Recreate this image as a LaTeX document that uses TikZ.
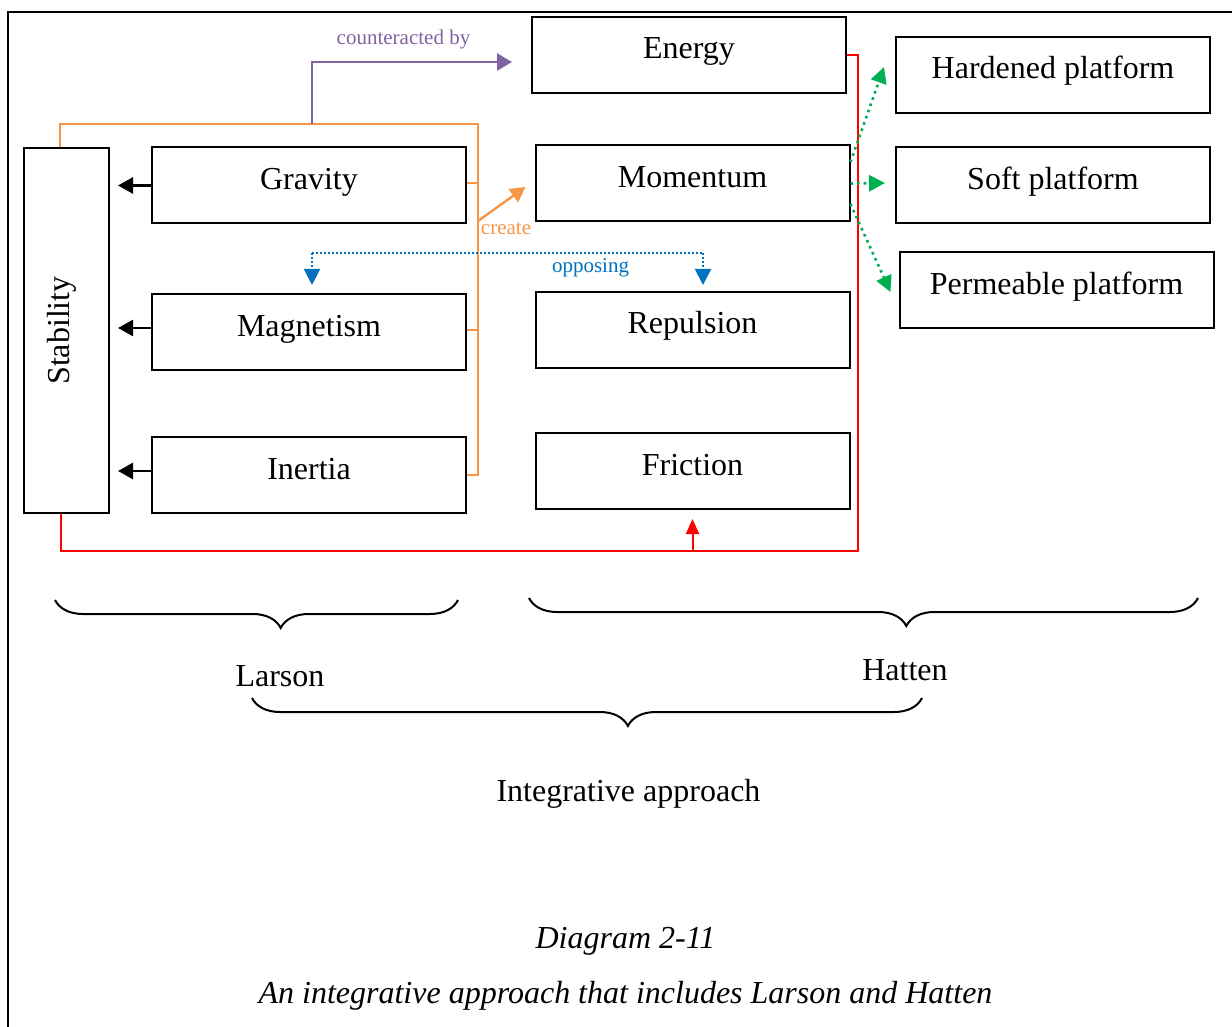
\documentclass[tikz,border=0pt]{standalone}
\usepackage{fontspec}
\setmainfont{Liberation Serif}
\usetikzlibrary{arrows.meta,decorations.pathreplacing}

\definecolor{lnorange}{HTML}{F79646}
\definecolor{lnpurple}{HTML}{8064A2}
\definecolor{lnblue}{HTML}{0070C0}
\definecolor{lnred}{HTML}{FF0000}
\definecolor{lngreen}{HTML}{00B050}

\begin{document}
\begin{tikzpicture}[x=0.5pt,y=-0.5pt,
  box/.style={draw, line width=1pt, inner sep=0pt, minimum width=157pt,
    text height=21pt, text depth=17pt, font=\fontsize{16}{19}\selectfont},
  stabbox/.style={draw, line width=1pt, inner sep=0pt,
    minimum width=42.5pt, minimum height=182.5pt},
  lbl/.style={font=\fontsize{16}{19}\selectfont, inner sep=0pt, anchor=base},
  caption/.style={font=\fontsize{16}{19}\selectfont\itshape, inner sep=0pt, anchor=base},
  small/.style={font=\fontsize{10.5}{12}\selectfont, inner sep=0pt, anchor=base},
  blk/.style={line width=1.3pt, -{Triangle[length=7.5pt,width=8pt]}},
  oline/.style={lnorange, line width=1pt},
  oarrow/.style={lnorange, line width=1.2pt, -{Triangle[length=7.5pt,width=8pt]}},
  parrow/.style={lnpurple, line width=1.2pt, -{Triangle[length=7.5pt,width=8.5pt]}},
  bline/.style={lnblue, line width=1pt, dash pattern=on 1pt off 1pt},
  barrow/.style={bline, -{Triangle[length=8pt,width=8pt]}},
  rline/.style={lnred, line width=1pt},
  rarrow/.style={rline, -{Triangle[length=7.5pt,width=6.5pt]}},
  garrow/.style={lngreen, line width=1.3pt, dash pattern=on 1.3pt off 2pt,
    -{Triangle[length=8pt,width=8pt]}},
  brc/.style={line width=1pt, decorate},
]
\useasboundingbox (0,0) rectangle (1232,1027);

% page frame (top and left rules)
\draw[line width=1.4pt] (1232,12) -- (8,12) -- (8,1027);

% boxes
\node[box] (energy)    at (689,55)      {Energy};
\node[box] (hard)      at (1053,75)     {Hardened platform};
\node[box] (soft)      at (1053,185.5)  {Soft platform};
\node[box] (perm)      at (1056.5,290.5){Permeable platform};
\node[box] (gravity)   at (309,185.5)   {Gravity};
\node[box] (momentum)  at (692.5,183.5) {Momentum};
\node[box] (magnet)    at (309,332)     {Magnetism};
\node[box] (repulsion) at (692.5,330)   {Repulsion};
\node[box] (inertia)   at (309,475)     {Inertia};
\node[box] (friction)  at (692.5,471)   {Friction};
\node[stabbox] (stab)  at (66.5,330.5)  {};
\node[lbl, rotate=90] (stabtext) at (69,330.5) {Stability};

% forces acting on stability
\draw[blk] (gravity.west) -- ([xshift=4pt]gravity.west -| stab.east);
\draw[blk] ([yshift=2pt]magnet.west)  -- ([xshift=4pt,yshift=2pt]magnet.west -| stab.east);
\draw[blk] ([yshift=2pt]inertia.west) -- ([xshift=4pt,yshift=2pt]inertia.west -| stab.east);

% orange collector
\coordinate (otop) at (478,124);
\coordinate (ocreate) at (478,221);
\coordinate (pstart) at (312,124);
\draw[oline] ([xshift=-3.25pt]stab.north) |- (otop) |- (inertia.east);
\draw[oline] ([yshift=1pt]gravity.east) -- ([yshift=1pt]gravity.east -| otop);
\draw[oline] ([yshift=1pt]magnet.east) -- ([yshift=1pt]magnet.east -| otop);
\draw[oarrow] (ocreate) -- ([xshift=-4.5pt,yshift=-1.75pt]momentum.west);
\node[small, text=lnorange] (createlbl) at (506,235) {create};

% counteracted by
\draw[parrow] (pstart) |- ([xshift=-9.5pt,yshift=-3.5pt]energy.west);
\node[small, text=lnpurple] (counterlbl) at (403.5,45) {counteracted by};

% opposing
\coordinate (bl) at (312,253);
\coordinate (br) at (703,253);
\draw[bline] (bl) -- (br);
\draw[barrow] (bl) -- ([yshift=4pt]bl |- magnet.north);
\draw[barrow] (br) -- ([yshift=3pt]br |- repulsion.north);
\node[small, text=lnblue] (opplbl) at (590.5,273) {opposing};

% red loop from energy to stability, feeding friction
\coordinate (rtr) at (858,55);
\coordinate (rbr) at (858,551);
\draw[rline] (energy.east) -- (rtr) -- (rbr) -| ([xshift=-3pt]stab.south);
\draw[rarrow] (friction.south |- rbr) -- ([yshift=-4.5pt]friction.south);

% momentum to platforms
\draw[garrow] ([yshift=10.75pt]momentum.east) -- ([xshift=-5.5pt,yshift=4pt]hard.west);
\draw[garrow] (momentum.east) -- ([xshift=-5pt,yshift=1.25pt]soft.west);
\draw[garrow] ([yshift=-10.25pt]momentum.east) -- ([xshift=-4pt,yshift=-0.75pt]perm.west);

% braces
\coordinate (lb1) at (55,600);   \coordinate (lb2) at (458,600);
\coordinate (hb1) at (529,598);  \coordinate (hb2) at (1198,598);
\coordinate (ib1) at (252,698);  \coordinate (ib2) at (922,698);
\draw[brc, decoration={brace,mirror,amplitude=14pt,aspect=0.56}] (lb1) -- (lb2);
\draw[brc, decoration={brace,mirror,amplitude=14pt,aspect=0.564}] (hb1) -- (hb2);
\draw[brc, decoration={brace,mirror,amplitude=14pt,aspect=0.561}] (ib1) -- (ib2);

\node[lbl] (larson) at (280,686) {Larson};
\node[lbl] (hatten) at (905,680) {Hatten};
\node[lbl] (integ)  at (628.5,801) {Integrative approach};

\node[caption] (diag) at (625.5,948) {Diagram 2-11};
\node[caption] (capt) at (625.5,1003) {An integrative approach that includes Larson and Hatten};
\end{tikzpicture}
\end{document}
